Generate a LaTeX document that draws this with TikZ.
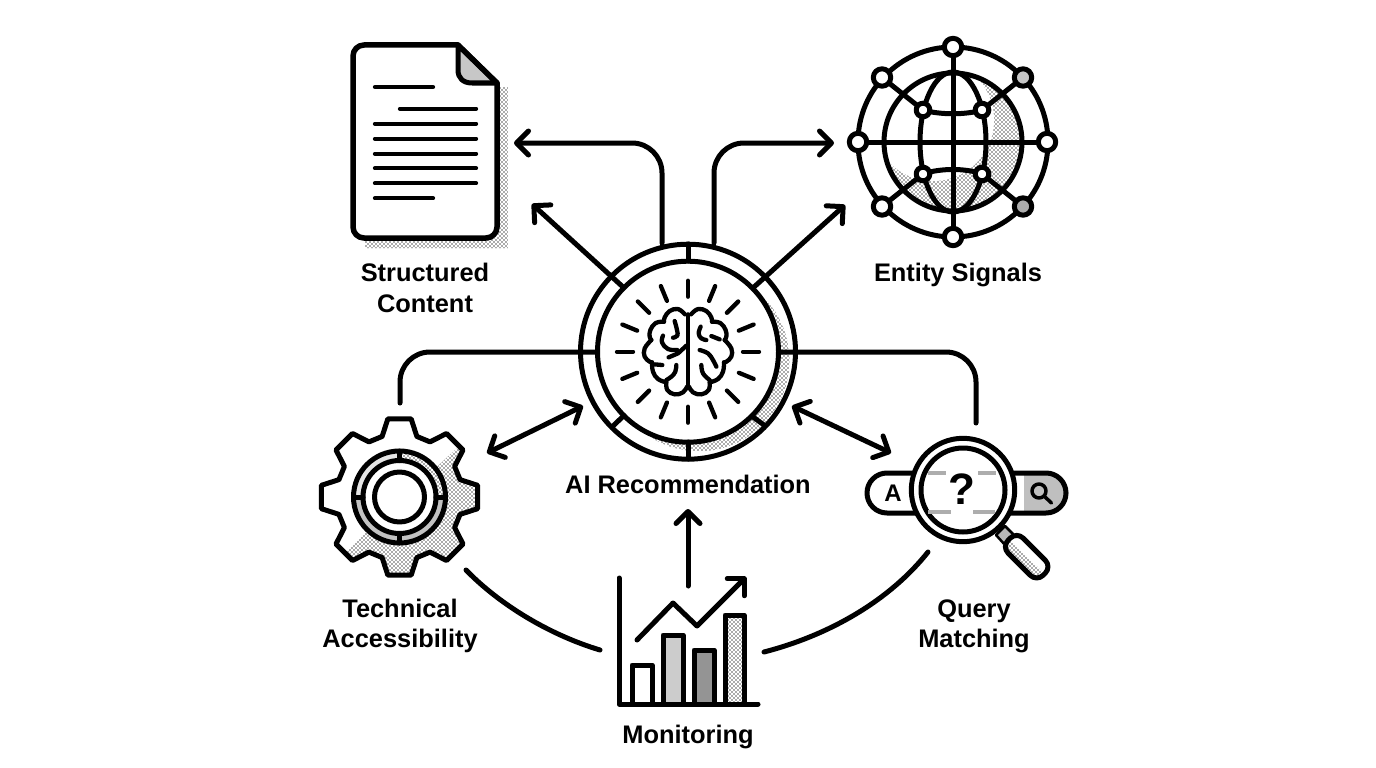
\documentclass[tikz,border=0pt]{standalone}
\usepackage{fontspec}
\setmainfont{Liberation Sans}
\usetikzlibrary{arrows.meta,patterns}
\pgfdeclarepatternformonly{mydots}{\pgfqpoint{-1pt}{-1pt}}{\pgfqpoint{3.2pt}{3.2pt}}{\pgfqpoint{4pt}{4pt}}{
  \pgfpathcircle{\pgfqpoint{0pt}{0pt}}{0.82pt}
  \pgfpathcircle{\pgfqpoint{2pt}{2pt}}{0.82pt}
  \pgfusepath{fill}}
\tikzset{
  ln/.style={line width=5pt,line cap=round,line join=round,black},
  thin ln/.style={line width=4.3pt,line cap=round,line join=round,black},
  barb/.style={-{Straight Barb[length=12pt,width=24pt,round]}},
  dbarb/.style={{Straight Barb[length=12pt,width=24pt,round]}-{Straight Barb[length=12pt,width=24pt,round]}},
  wire/.style={ln,rounded corners=30pt},
  dotfill/.style={pattern=mydots,pattern color=black!65},
  lab/.style={font=\fontsize{25.4}{30.5}\selectfont\bfseries,align=center,inner sep=0pt,text=black},
}
\newcommand{\gearpath}{(-16:63) \foreach \a in {0,45,...,315}{ -- (\a-16:63) -- (\a-8.5:79) -- (\a+8.5:79) -- (\a+16:63)} -- cycle}
\begin{document}
\begin{tikzpicture}[x=1pt,y=-1pt]
\useasboundingbox (0,0) rectangle (1376,768);
\fill[white] (0,0) rectangle (1376,768);

% ---------- document
\fill[dotfill] (480,87) -- (508,87) -- (508,248) -- (365,248) -- (365,230) -- (480,230) -- cycle;
\node[inner sep=0pt,minimum width=0pt] (doc) at (425,141) {};
\fill[white] (458,45) -- (497,83) -- (497,238) -- (353,238) -- (353,45) -- cycle;
\draw[ln,fill=black!22] (458,45) -- (458,70) .. controls (458,78) and (463,83) .. (472,83) -- (497,83) -- cycle;
\draw[ln,line width=5.5pt,rounded corners=11pt] (458,45) -- (353,45) -- (353,238) -- (497,238) -- (497,83);
\draw[ln,line width=5.5pt] (458,45) -- (497,83);
\draw[thin ln] (375,87) -- (433,87);
\draw[thin ln] (400,108.7) -- (476,108.7);
\foreach \y in {123.7,138.7,153.7,168.3,183.3} \draw[thin ln] (375,\y) -- (476,\y);
\draw[thin ln] (375,198.3) -- (433,198.3);

% ---------- globe
\node[inner sep=0pt] (globe) at (953,142) {};
\begin{scope}
  \clip (953,142) circle[radius=69];
  \fill[dotfill] (883,72) rectangle (1023,212);
  \fill[white] (933,120) circle[radius=61];
\end{scope}
\draw[ln] (953,142) circle[radius=95];
\draw[ln] (953,142) circle[radius=69];
\draw[ln] (953,142) ellipse[x radius=33,y radius=70];
\draw[ln] (953,47) -- (953,237);
\draw[ln] (858,142) -- (1047,142);
\draw[ln] (923,110) .. controls (940,115) and (966,115) .. (982,110);
\draw[ln] (923,174) .. controls (940,168) and (966,168) .. (982,174);
\draw[ln] (882,77.5) -- (923,110);
\draw[ln] (1023,77.5) -- (982,110);
\draw[ln] (882,206.5) -- (923,174);
\draw[ln] (1023,206.5) -- (982,174);
\foreach \p in {(953,47),(953,237),(858,142),(1047,142),(882,77.5),(882,206.5)}
  \draw[ln,fill=white] \p circle[radius=8.7];
\draw[ln,fill=black!22] (1023,77.5) circle[radius=8.7];
\draw[ln,fill=black!32] (1023,206.5) circle[radius=8.7];
\foreach \p in {(923,110),(982,110),(923,174),(982,174)}
  \draw[ln,fill=white] \p circle[radius=6.8];

% ---------- hub
\node[circle,inner sep=0pt,minimum size=214pt] (hub) at (688,351.7) {};
\fill[white] (688,351.7) circle[radius=107];
\begin{scope}
  \clip (688,351.7) circle[radius=107];
  \fill[dotfill] (699,360.6) circle[radius=90.6];
\end{scope}
\fill[white] (688,351.7) circle[radius=90];
\draw[ln] (688,351.7) circle[radius=107.5];
\draw[ln] (688,351.7) circle[radius=90.5];
\draw[ln] (688,244) -- (688,261);
\draw[ln] (688,442) -- (688,459);
\draw[ln] (614,425) -- (624,415.5);
\draw[ln] (753,417) -- (764,425);
\begin{scope}[shift={(688,351.7)}]
  \foreach \a in {0,22.5,...,337.5} \draw[thin ln] (\a:55) -- (\a:71);
\end{scope}
% brain
\foreach \s in {1,-1}{
\begin{scope}[shift={(688,351.7)},x=\s*0.3333pt,y=-0.3333pt]
 \draw[thin ln] plot[smooth,tension=.7] coordinates {(-9,-112) (-30,-128) (-55,-122) (-70,-103) (-72,-90)};
 \draw[thin ln] plot[smooth,tension=.7] coordinates {(-72,-90) (-97,-86) (-113,-65) (-115,-45) (-110,-35)};
 \draw[thin ln] plot[smooth,tension=.7] coordinates {(-110,-35) (-130,-10) (-130,15) (-115,30) (-108,32)};
 \draw[thin ln] plot[smooth,tension=.7] coordinates {(-108,32) (-105,60) (-90,82) (-65,92)};
 \draw[thin ln] plot[smooth,tension=.7] coordinates {(-65,92) (-62,115) (-40,128) (-15,122) (-3,105)};
\end{scope}}
\begin{scope}[shift={(688,351.7)},x=0.3333pt,y=-0.3333pt]
 \draw[thin ln] (0,-112) -- (0,108);
 \draw[thin ln] plot[smooth,tension=.7] coordinates {(-75,-48) (-78,-28) (-60,-8) (-32,-5)};
 \draw[thin ln] plot[smooth,tension=.7] coordinates {(-40,-92) (-33,-65) (-32,-48) (-45,-42)};
 \draw[thin ln] (-58,17) -- (-30,5) -- (-5,-18);
 \draw[thin ln] (-100,38) -- (-77,40);
 \draw[thin ln] plot[smooth,tension=.7] coordinates {(-35,40) (-38,60) (-50,75) (-65,85)};
 \draw[thin ln] (70,-47) -- (95,-37);
 \draw[thin ln] plot[smooth,tension=.7] coordinates {(35,-5) (60,5) (75,25) (85,45)};
 \draw[thin ln] plot[smooth,tension=.7] coordinates {(40,40) (45,65) (65,85)};
 \draw[thin ln] plot[smooth,tension=.7] coordinates {(38,-75) (32,-55) (40,-40) (55,-35)};
\end{scope}

% ---------- gear
\begin{scope}[shift={(399.5,497)}]
  \node[inner sep=0pt] (gear) at (0,0) {};
  \fill[white] \gearpath;
  \begin{scope}
    \clip \gearpath;
    \fill[dotfill] (80,-70) -- (-75,75) -- (-75,100) -- (100,100) -- (100,-70) -- cycle;
  \end{scope}
  \draw[ln] \gearpath;
  \fill[white] (0,0) circle[radius=46];
  \begin{scope}
    \clip (0,0) circle[radius=46];
    \fill[black!10] (-50,-50) rectangle (0,0);
    \fill[dotfill] (0,-50) rectangle (50,0);
    \fill[black!24] (-50,0) rectangle (50,50);
  \end{scope}
  \fill[white] (0,0) circle[radius=36.5];
  \draw[ln] (0,0) circle[radius=46];
  \draw[ln] (0,0) circle[radius=36.5];
  \draw[ln] (0,0) circle[radius=25];
  \draw[ln] (0,-46) -- (0,-36.5);
  \draw[ln] (0,46) -- (0,36.5);
  \draw[ln] (-46,0) -- (-36.5,0);
  \draw[ln] (46,0) -- (36.5,0);
\end{scope}

% ---------- search bar and magnifier
\node[inner sep=0pt] (lens) at (963,490) {};
\begin{scope}
  \clip[rounded corners=20pt] (867,473) rectangle (1066,513);
  \fill[black!25] (1024,473) rectangle (1066,513);
\end{scope}
\draw[ln,rounded corners=20pt] (867,473) rectangle (1066,513);
\node[inner sep=0pt,font=\fontsize{24}{24}\selectfont\bfseries] (lettera) at (893,493) {A};
\draw[ln,line width=3.5pt] (1039,491) circle[radius=7];
\draw[ln,line width=3.5pt] (1044.5,496.5) -- (1051.5,503);
\draw[ln,fill=white] (963,490) circle[radius=51.7];
\draw[ln,fill=white] (963,490) circle[radius=42];
\foreach \p/\q/\y in {928/946/473,978/996/473,928/951/512,973/995/512}
  \draw[line width=3.5pt,black!32] (\p,\y) -- (\q,\y);
\node[inner sep=0pt,font=\fontsize{44}{44}\selectfont\bfseries] (qm) at (962,489) {?};
\draw[line width=2.5pt,line join=round,fill=black!28] (996,535) -- (1005,526) -- (1014,535) -- (1005,545) -- cycle;
\fill[white] (1001.7,546.7) -- (1016.7,531.7) -- (1051.7,566.7) -- (1036.7,581.7) -- cycle;
\begin{scope}
  \clip[rounded corners=9pt] (1001.7,546.7) -- (1016.7,531.7) -- (1051.7,566.7) -- (1036.7,581.7) -- cycle;
  \fill[dotfill] (1001.7,546.7) -- (1009,539) -- (1045,574) -- (1036.7,581.7) -- cycle;
\end{scope}
\draw[ln,rounded corners=9pt] (1001.7,546.7) -- (1016.7,531.7) -- (1051.7,566.7) -- (1036.7,581.7) -- cycle;

% ---------- monitoring chart
\node[inner sep=0pt] (chart) at (688,640) {};
\draw[ln,fill=white] (632,704) -- (632,665) -- (652,665) -- (652,704);
\draw[ln,fill=black!20] (663,704) -- (663,635) -- (683,635) -- (683,704);
\draw[ln,fill=black!42] (694,704) -- (694,650) -- (714,650) -- (714,704);
\fill[white] (725,704) -- (725,615) -- (744,615) -- (744,704) -- cycle;
\fill[dotfill] (725,704) -- (725,615) -- (744,615) -- (744,704) -- cycle;
\draw[ln] (725,704) -- (725,615) -- (744,615) -- (744,704);
\draw[ln] (619,578) -- (619,704) -- (758,704);
\draw[ln,barb] (637,640) -- (673,603) -- (697,626) -- (746,577);

% ---------- connectors
\coordinate (a1) at (662,243);
\coordinate (a1e) at (514,143);
\coordinate (a2) at (714,243);
\coordinate (a2e) at (834,143);
\coordinate (a3) at (623,287);
\coordinate (a3e) at (532,204);
\coordinate (a4) at (754,287);
\coordinate (a4e) at (845,205);
\coordinate (b1) at (597,352);
\coordinate (b1e) at (400,403);
\coordinate (b2) at (780,352);
\coordinate (b2e) at (976,423);
\coordinate (c1) at (487,453);
\coordinate (c1e) at (583,406);
\coordinate (c2) at (792,406);
\coordinate (c2e) at (891,453);
\coordinate (d1) at (688,586);
\coordinate (d1e) at (688,509);
\coordinate (e1) at (466,570);
\coordinate (e1e) at (600,650);
\coordinate (e2) at (928,552);
\coordinate (e2e) at (764,652);
\draw[wire,barb] (a1) |- (a1e);
\draw[wire,barb] (a2) |- (a2e);
\draw[ln,barb] (a3) -- (a3e);
\draw[ln,barb] (a4) -- (a4e);
\draw[wire] (b1) -| (b1e);
\draw[wire] (b2) -| (b2e);
\draw[ln,dbarb] (c1) -- (c1e);
\draw[ln,dbarb] (c2) -- (c2e);
\draw[ln,barb] (d1) -- (d1e);
\draw[ln] (e1) .. controls (500,605) and (550,635) .. (e1e);
\draw[ln] (e2) .. controls (890,600) and (830,635) .. (e2e);

% ---------- labels
\node[lab] (l1) at (425,288) {Structured\\Content};
\node[lab] (l2) at (958,275) {Entity Signals};
\node[lab] (l3) at (688,484) {AI Recommendation};
\node[lab] (l4) at (400,626) {Technical\\Accessibility};
\node[lab] (l5) at (974,626.5) {Query\\Matching};
\node[lab] (l6) at (688,737) {Monitoring};
\end{tikzpicture}
\end{document}
